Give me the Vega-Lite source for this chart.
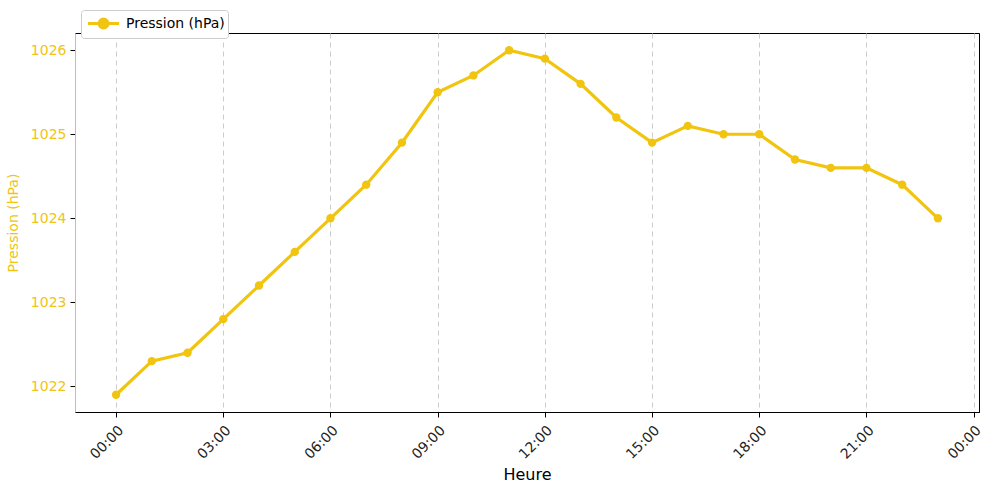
{
  "$schema": "https://vega.github.io/schema/vega-lite/v6.json",
  "width": 904,
  "height": 379,
  "autosize": {"type": "none"},
  "padding": {"left": 75, "top": 33, "right": 10, "bottom": 81},
  "background": "white",
  "config": {
    "font": "DejaVu Sans",
    "view": {"stroke": "black", "strokeWidth": 1}
  },
  "data": {
    "values": [
      {"h": 0, "p": 1021.9, "s": "Pression (hPa)"},
      {"h": 1, "p": 1022.3, "s": "Pression (hPa)"},
      {"h": 2, "p": 1022.4, "s": "Pression (hPa)"},
      {"h": 3, "p": 1022.8, "s": "Pression (hPa)"},
      {"h": 4, "p": 1023.2, "s": "Pression (hPa)"},
      {"h": 5, "p": 1023.6, "s": "Pression (hPa)"},
      {"h": 6, "p": 1024.0, "s": "Pression (hPa)"},
      {"h": 7, "p": 1024.4, "s": "Pression (hPa)"},
      {"h": 8, "p": 1024.9, "s": "Pression (hPa)"},
      {"h": 9, "p": 1025.5, "s": "Pression (hPa)"},
      {"h": 10, "p": 1025.7, "s": "Pression (hPa)"},
      {"h": 11, "p": 1026.0, "s": "Pression (hPa)"},
      {"h": 12, "p": 1025.9, "s": "Pression (hPa)"},
      {"h": 13, "p": 1025.6, "s": "Pression (hPa)"},
      {"h": 14, "p": 1025.2, "s": "Pression (hPa)"},
      {"h": 15, "p": 1024.9, "s": "Pression (hPa)"},
      {"h": 16, "p": 1025.1, "s": "Pression (hPa)"},
      {"h": 17, "p": 1025.0, "s": "Pression (hPa)"},
      {"h": 18, "p": 1025.0, "s": "Pression (hPa)"},
      {"h": 19, "p": 1024.7, "s": "Pression (hPa)"},
      {"h": 20, "p": 1024.6, "s": "Pression (hPa)"},
      {"h": 21, "p": 1024.6, "s": "Pression (hPa)"},
      {"h": 22, "p": 1024.4, "s": "Pression (hPa)"},
      {"h": 23, "p": 1024.0, "s": "Pression (hPa)"}
    ]
  },
  "encoding": {
    "x": {
      "field": "h",
      "type": "quantitative",
      "scale": {"domain": [-1.15, 24.15], "nice": false, "zero": false},
      "axis": {
        "values": [0, 3, 6, 9, 12, 15, 18, 21, 24],
        "labelExpr": "(datum.value % 24 < 10 ? '0' : '') + (datum.value % 24) + ':00'",
        "labelAngle": -45,
        "labelAlign": "right",
        "labelBaseline": "top",
        "labelPadding": 6,
        "labelFontSize": 14,
        "labelColor": "#222",
        "tickColor": "black",
        "tickSize": 5,
        "domainColor": "black",
        "grid": true,
        "gridColor": "#cccccc",
        "gridDash": [5, 4],
        "gridWidth": 1,
        "title": "Heure",
        "titleFontSize": 16,
        "titleFontWeight": "normal",
        "titleColor": "black",
        "titlePadding": 5
      }
    },
    "y": {
      "field": "p",
      "type": "quantitative",
      "scale": {"domain": [1021.695, 1026.205], "nice": false, "zero": false},
      "axis": {
        "values": [1022, 1023, 1024, 1025, 1026],
        "format": "d",
        "grid": false,
        "labelColor": "#F1C40F",
        "labelFontSize": 14,
        "labelPadding": 4,
        "tickColor": "black",
        "tickSize": 5,
        "domainColor": "#F1C40F",
        "title": "Pression (hPa)",
        "titleColor": "#F1C40F",
        "titleFontSize": 14,
        "titleFontWeight": "normal",
        "titlePadding": 10
      }
    },
    "color": {
      "field": "s",
      "type": "nominal",
      "scale": {"range": ["#F1C40F"]},
      "legend": {
        "title": null,
        "orient": "none",
        "legendX": 6,
        "legendY": -23,
        "fillColor": "white",
        "strokeColor": "#cccccc",
        "cornerRadius": 3,
        "padding": 3,
        "labelFontSize": 14,
        "labelColor": "black",
        "symbolType": "M-1.8,0H1.8M-0.5,0A0.5,0.5 0 1,1 0.5,0A0.5,0.5 0 1,1 -0.5,0Z",
        "symbolSize": 300,
        "symbolStrokeWidth": 3.2,
        "symbolFillColor": "#F1C40F",
        "symbolOffset": 9,
        "labelOffset": 12
      }
    }
  },
  "layer": [
    {"mark": {"type": "line", "strokeWidth": 3.2}},
    {"mark": {"type": "point", "filled": true, "size": 70, "opacity": 1}}
  ]
}
